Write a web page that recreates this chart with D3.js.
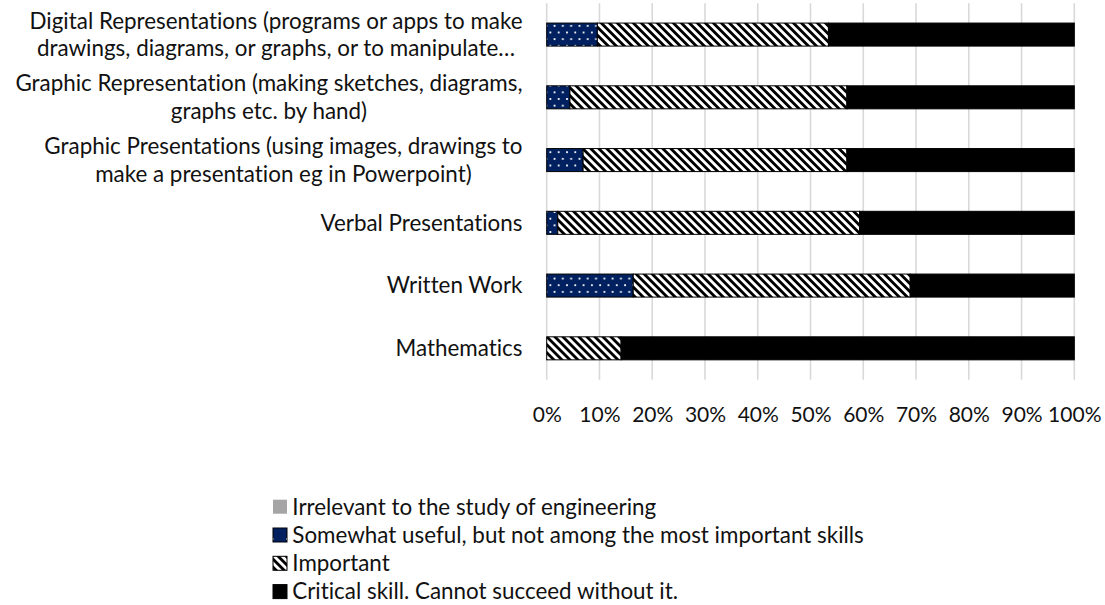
<!DOCTYPE html>
<html>
<head>
<meta charset="utf-8">
<script src="https://cdn.jsdelivr.net/npm/d3@7"></script>
<style>
  html, body { margin: 0; padding: 0; background: #ffffff; }
  svg { display: block; font-family: Lato, "Open Sans", sans-serif; font-variant-ligatures: none; }
  text { font-variant-ligatures: none; font-feature-settings: "liga" 0, "clig" 0; }
</style>
</head>
<body>
<svg id="chart" width="1105" height="605"></svg>
<script>
// Skills, listed top to bottom
const categories = [
  "Digital Representations",
  "Graphic Representation",
  "Graphic Presentations",
  "Verbal Presentations",
  "Written Work",
  "Mathematics"
];
const categoryLabels = [
  ["Digital Representations (programs or apps to make", "drawings, diagrams, or graphs, or to manipulate\u2026"],
  ["Graphic Representation (making sketches, diagrams,", "graphs etc. by hand)"],
  ["Graphic Presentations (using images, drawings to", "make a presentation eg in Powerpoint)"],
  ["Verbal Presentations"],
  ["Written Work"],
  ["Mathematics"]
];

// Share of responses (%) per rating
const seriesNames = [
  "Irrelevant to the study of engineering",
  "Somewhat useful, but not among the most important skills",
  "Important",
  "Critical skill. Cannot succeed without it."
];
const irrelevant     = [0, 0, 0, 0, 0, 0];
const somewhatUseful = [9.6, 4.4, 6.9, 2.1, 16.4, 0];
const important      = [43.8, 52.5, 50.0, 57.2, 52.5, 14.1];
const critical       = [46.6, 43.1, 43.1, 40.7, 31.1, 85.9];

const tickValues = [0, 10, 20, 30, 40, 50, 60, 70, 80, 90, 100];
const tickLabels = ["0%", "10%", "20%", "30%", "40%", "50%", "60%", "70%", "80%", "90%", "100%"];

const svg = d3.select("#chart");
const FONT = 22.4;
const TICK_FONT = 21;

// pattern fills
const defs = svg.append("defs");
const dots = defs.append("pattern")
  .attr("id", "dots").attr("patternUnits", "userSpaceOnUse")
  .attr("x", 548.5).attr("y", 4)
  .attr("width", 8.3).attr("height", 13.3);
dots.append("rect").attr("width", 8.3).attr("height", 13.3).attr("fill", "#002060");
dots.append("rect").attr("x", 1).attr("y", 1).attr("width", 1.8).attr("height", 1.8).attr("fill", "#ffffff");
dots.append("rect").attr("x", 5.15).attr("y", 7.65).attr("width", 1.8).attr("height", 1.8).attr("fill", "#ffffff");

const hatch = defs.append("pattern")
  .attr("id", "hatch").attr("patternUnits", "userSpaceOnUse")
  .attr("width", 5.66).attr("height", 5.66)
  .attr("patternTransform", "rotate(-45)");
hatch.append("rect").attr("width", 5.66).attr("height", 5.66).attr("fill", "#ffffff");
hatch.append("rect").attr("width", 2.83).attr("height", 5.66).attr("fill", "#000000");

const legendDots = defs.append("pattern")
  .attr("id", "legendDots").attr("patternUnits", "userSpaceOnUse")
  .attr("width", 14).attr("height", 14);
legendDots.append("rect").attr("width", 14).attr("height", 14).attr("fill", "#002060");
legendDots.append("rect").attr("x", 6).attr("y", 6).attr("width", 1.8).attr("height", 1.8).attr("fill", "#ffffff");

const fills = ["#A5A5A5", "url(#dots)", "url(#hatch)", "#000000"];
const legendFills = ["#A5A5A5", "url(#legendDots)", "url(#hatch)", "#000000"];

// scales
const x = d3.scaleLinear().domain([0, 100]).range([546.7, 1074.3]);
const y = d3.scaleBand().domain(categories).range([3.2, 379.7])
  .paddingInner(0.633).paddingOuter(0.3165);

// gridlines
svg.append("g").selectAll("line").data(tickValues).join("line")
  .attr("x1", d => x(d)).attr("x2", d => x(d))
  .attr("y1", 3.2).attr("y2", 379.7)
  .attr("stroke", "#D9D9D9").attr("stroke-width", 1.6);

// stacked bars
const rows = categories.map((c, i) => ({
  category: c,
  s0: irrelevant[i], s1: somewhatUseful[i], s2: important[i], s3: critical[i]
}));
const stacked = d3.stack().keys(["s0", "s1", "s2", "s3"])(rows);

svg.append("g").selectAll("g").data(stacked).join("g")
  .attr("fill", (d, i) => fills[i])
  .selectAll("rect")
  .data(d => d.filter(p => p[1] - p[0] > 0))
  .join("rect")
  .attr("x", d => x(d[0]))
  .attr("width", d => x(d[1]) - x(d[0]))
  .attr("y", d => y(d.data.category))
  .attr("height", y.bandwidth())
  .attr("stroke", "#000000").attr("stroke-width", 1);

// x axis tick labels
const xAxis = d3.axisBottom(x).tickValues(tickValues)
  .tickFormat((d, i) => tickLabels[i]).tickSize(0).tickPadding(27);
const axisG = svg.append("g").attr("transform", "translate(0,379.7)").call(xAxis);
axisG.select(".domain").remove();
axisG.selectAll("text").attr("font-size", TICK_FONT).attr("fill", "#111111")
  .style("font-family", "Lato, 'Open Sans', sans-serif");

// category labels: block right-aligned, lines centred within block
const labelRight = 522.5;
const lineH = FONT * 1.24;
const labelG = svg.append("g");
categories.forEach((c, i) => {
  const lines = categoryLabels[i];
  const cy = y(c) + y.bandwidth() / 2;
  const t = labelG.append("g");
  const texts = lines.map((ln, j) => t.append("text")
    .attr("font-size", FONT).attr("fill", "#111111")
    .attr("y", cy + (j - (lines.length - 1) / 2) * lineH)
    .attr("dy", "0.35em")
    .attr("text-anchor", "middle")
    .text(ln));
  const maxW = d3.max(texts, n => n.node().getComputedTextLength());
  texts.forEach(n => n.attr("x", labelRight - maxW / 2));
});

// legend
const legendRowY = [506.7, 535, 563.3, 591.6];
const legend = svg.append("g");
seriesNames.forEach((name, i) => {
  legend.append("rect")
    .attr("x", 273).attr("y", legendRowY[i] - 7)
    .attr("width", 14).attr("height", 14)
    .attr("fill", legendFills[i])
    .attr("stroke", i === 0 ? "none" : "#000000").attr("stroke-width", 1);
  legend.append("text")
    .attr("x", 292.3).attr("y", legendRowY[i]).attr("dy", "0.35em")
    .attr("font-size", FONT).attr("fill", "#111111")
    .text(name);
});
</script>
</body>
</html>
